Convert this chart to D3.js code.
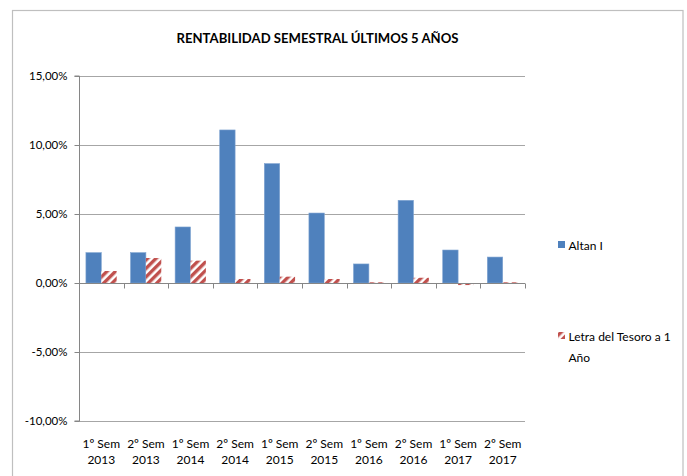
<!DOCTYPE html>
<html><head><meta charset="utf-8">
<script src="https://cdn.jsdelivr.net/npm/d3@7"></script>
<style>
html,body{margin:0;padding:0;background:#fff;}
text{font-family:Lato,"Liberation Sans",sans-serif;fill:#000;}
</style></head>
<body>
<svg id="c" width="687" height="476"></svg>
<script>
const title = "RENTABILIDAD SEMESTRAL ÚLTIMOS 5 AÑOS";
const categories = ["1º Sem|2013","2º Sem|2013","1º Sem|2014","2º Sem|2014","1º Sem|2015","2º Sem|2015","1º Sem|2016","2º Sem|2016","1º Sem|2017","2º Sem|2017"];
const seriesNames = ["Altan I","Letra del Tesoro a 1 Año"];
const altan = [0.022,0.022,0.0406,0.1109,0.0865,0.0507,0.0138,0.0599,0.0239,0.0188];
const letra = [0.0087,0.0181,0.0162,0.0029,0.0046,0.0029,0.0005,0.0038,-0.0015,0.0005];
const yTicks = [-0.10,-0.05,0,0.05,0.10,0.15];

(function(){
const svg = d3.select("#c");
const blue = "#4F81BD", red = "#C0504D";

function fitWidth(sel, target){
  const n = sel.node(); const w = n.getComputedTextLength();
  const fs = parseFloat(sel.attr("font-size"));
  if (w > 0) sel.attr("font-size", (fs*target/w).toFixed(2)+"px");
}

const defs = svg.append("defs");
const pat = defs.append("pattern").attr("id","hatch").attr("patternUnits","userSpaceOnUse")
  .attr("width",6).attr("height",6).attr("patternTransform","rotate(45)");
pat.append("rect").attr("width",6).attr("height",6).attr("fill","#fff");
pat.append("rect").attr("width",3.4).attr("height",6).attr("fill",red);

svg.append("rect").attr("x",12.5).attr("y",10.5).attr("width",670.5).attr("height",480)
  .attr("fill","none").attr("stroke","#BFBFBF").attr("stroke-width",1.2);

const pL = 79, pR = 525, pT = 76, pB = 421;
const y = d3.scaleLinear().domain([-0.10,0.15]).range([pB, pT]);
const x = d3.scaleBand().domain(categories).range([pL,pR]).padding(0);
const x1 = d3.scaleBand().domain(seriesNames).range([0,x.bandwidth()]).paddingInner(0).paddingOuter(0.45);

svg.append("g").selectAll("line").data(yTicks.filter(v=>v!==0)).join("line")
  .attr("x1",pL).attr("x2",pR)
  .attr("y1",d=>Math.round(y(d))+0.5).attr("y2",d=>Math.round(y(d))+0.5)
  .attr("stroke","#A6A6A6").attr("stroke-width",1);

const fmt = d => d3.format(".2f")(d*100).replace(".",",").replace("\u2212","-") + "%";
const yAxis = svg.append("g").attr("transform",`translate(${pL+0.5},0)`)
  .call(d3.axisLeft(y).tickValues(yTicks).tickFormat(fmt).tickSize(5).tickPadding(7));
yAxis.attr("font-family",null).attr("font-size",null);
yAxis.select(".domain").attr("stroke","#868686").attr("d",`M-5,${y(0.15)}H0V${y(-0.10)}H-5`);
yAxis.selectAll(".tick line").attr("stroke","#868686");
yAxis.selectAll(".tick text").attr("font-size","11.5px").attr("fill","#000");

const data = categories.map((c,i)=>({c, vals:[{s:seriesNames[0],v:altan[i]},{s:seriesNames[1],v:letra[i]}]}));
const g = svg.append("g");
g.selectAll("g").data(data).join("g").attr("transform",d=>`translate(${x(d.c)},0)`)
  .selectAll("rect").data(d=>d.vals).join("rect")
  .attr("x",d=>x1(d.s)).attr("width",x1.bandwidth())
  .attr("y",d=>y(Math.max(0,d.v))).attr("height",d=>Math.abs(y(d.v)-y(0)))
  .attr("fill",(d,i)=>i===0?blue:"url(#hatch)")
  .attr("stroke",(d,i)=>i===0?"#7FA3D1":"none").attr("stroke-width",0.6);

const xAxisG = svg.append("g").attr("transform",`translate(0,${Math.round(y(0))+0.5})`);
xAxisG.append("line").attr("x1",pL).attr("x2",pR).attr("stroke","#868686");
const bounds = categories.map(c=>x(c)+x.bandwidth());
xAxisG.selectAll("line.t").data(bounds).join("line").attr("class","t")
  .attr("x1",d=>Math.round(d)+0.5).attr("x2",d=>Math.round(d)+0.5).attr("y1",0).attr("y2",5).attr("stroke","#868686");

const xl = svg.append("g").selectAll("text").data(categories).join("text")
  .attr("text-anchor","middle").attr("font-size","12px");
xl.append("tspan").attr("x",d=>x(d)+x.bandwidth()/2).attr("y",447.5).text(d=>d.split("|")[0]);
xl.append("tspan").attr("x",d=>x(d)+x.bandwidth()/2).attr("y",464).text(d=>d.split("|")[1]);

const t = svg.append("text").attr("x",317.5).attr("y",42.5).attr("text-anchor","middle")
  .attr("font-weight","bold").attr("font-size","14px").text(title);
fitWidth(t, 282);

const lg = svg.append("g");
lg.append("rect").attr("x",558).attr("y",241).attr("width",7).attr("height",7).attr("fill",blue);
lg.append("text").attr("x",568.5).attr("y",249.5).attr("font-size","12px").text(seriesNames[0]);
lg.append("rect").attr("x",558).attr("y",332).attr("width",7).attr("height",7).attr("fill","url(#hatch)");
const lt = lg.append("text").attr("font-size","12px");
lt.append("tspan").attr("x",568.5).attr("y",341).text("Letra del Tesoro a 1");
lt.append("tspan").attr("x",568.5).attr("y",362).text("Año");
})();
</script>
</body></html>
